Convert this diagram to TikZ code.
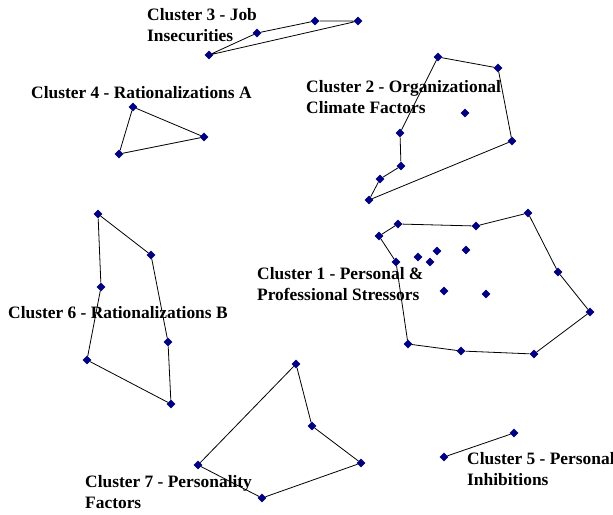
\documentclass[tikz,border=0pt]{standalone}
\usepackage{fontspec}
\setmainfont{Liberation Serif}
\usetikzlibrary{shapes.geometric}
\tikzset{
  punto/.style={diamond, fill=navy, draw=none, inner sep=0pt, minimum size=9pt},
  borde/.style={line width=0.8pt, black},
  etiqueta/.style={anchor=base west, inner sep=0pt, align=left,
    font=\fontsize{17.4}{20.5}\selectfont\bfseries}
}
\definecolor{navy}{RGB}{0,0,128}
\begin{document}
\begin{tikzpicture}[x=1pt, y=-1pt]
    % Marco
    \useasboundingbox (0,0) rectangle (613,514);

    % Cluster 1
    \foreach \n/\x/\y in {a1/398/224, a2/476/226, a3/528/213, a4/558/272, a5/590/312,
        a6/534/354, a7/461/351, a8/408/344, a9/396/262, a10/379/236,
        a11/418/257, a12/437/251, a13/430/262, a14/466/250, a15/444/291, a16/486/294}
        \node[punto] (\n) at (\x,\y) {};
    \draw[borde] (a1) -- (a2) -- (a3) -- (a4) -- (a5) -- (a6) -- (a7) -- (a8) -- (a9) -- (a10) -- (a1);

    % Cluster 2
    \foreach \n/\x/\y in {b1/438/57, b2/498/68, b3/512/141, b4/369/200, b5/380/179,
        b6/401/166, b7/400/133, b8/465/113}
        \node[punto] (\n) at (\x,\y) {};
    \draw[borde] (b1) -- (b2) -- (b3) -- (b4) -- (b5) -- (b6) -- (b7) -- (b1);

    % Cluster 3
    \foreach \n/\x/\y in {c1/209/55, c2/257/33, c3/315/21, c4/358/21}
        \node[punto] (\n) at (\x,\y) {};
    \draw[borde] (c1) -- (c2) -- (c3) -- (c4) -- (c1);

    % Cluster 4
    \foreach \n/\x/\y in {d1/133/107, d2/204/137, d3/119/154}
        \node[punto] (\n) at (\x,\y) {};
    \draw[borde] (d1) -- (d2) -- (d3) -- (d1);

    % Cluster 5
    \node[punto] (e1) at (444,457) {};
    \node[punto] (e2) at (514,433) {};
    \draw[borde] (e1) -- (e2);

    % Cluster 6
    \foreach \n/\x/\y in {f1/98/214, f2/151/255, f3/168/342, f4/171/404, f5/87/360, f6/101/287}
        \node[punto] (\n) at (\x,\y) {};
    \draw[borde] (f1) -- (f2) -- (f3) -- (f4) -- (f5) -- (f6) -- (f1);

    % Cluster 7
    \foreach \n/\x/\y in {g1/296/364, g2/312/426, g3/361/463, g4/262/498, g5/198/465}
        \node[punto] (\n) at (\x,\y) {};
    \draw[borde] (g1) -- (g2) -- (g3) -- (g4) -- (g5) -- (g1);

    % Etiquetas (la base es la de la ultima linea)
    \node[etiqueta] (t1) at (257,300) {Cluster 1 - Personal \&\\Professional Stressors};
    \node[etiqueta] (t2) at (306,113) {Cluster 2 - Organizational\\Climate Factors};
    \node[etiqueta] (t3) at (147,41) {Cluster 3 - Job\\Insecurities};
    \node[etiqueta] (t4) at (31,98) {Cluster 4 - Rationalizations A};
    \node[etiqueta] (t5) at (467,485) {Cluster 5 - Personal\\Inhibitions};
    \node[etiqueta] (t6) at (8,318) {Cluster 6 - Rationalizations B};
    \node[etiqueta] (t7) at (85,508) {Cluster 7 - Personality\\Factors};
\end{tikzpicture}
\end{document}
